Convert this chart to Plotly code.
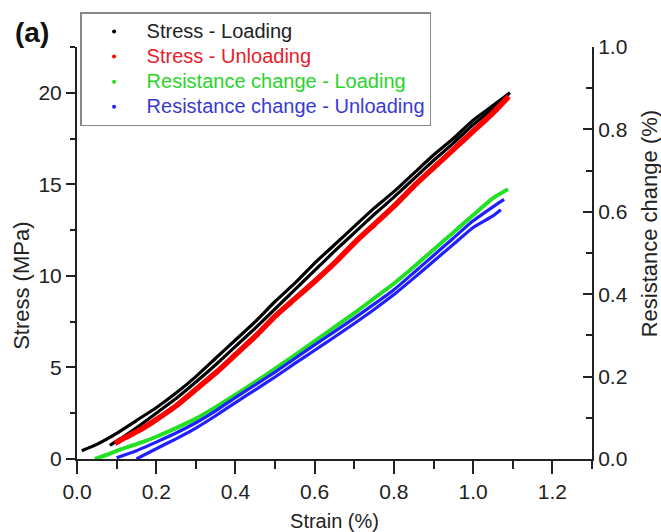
import plotly.graph_objects as go

# ---- data ----
# Stress (MPa) vs strain (%) - loading, two cycles
load1_strain = [0.012, 0.05, 0.10, 0.15, 0.20, 0.25, 0.30, 0.35, 0.40, 0.45, 0.50, 0.55, 0.60,
                0.65, 0.70, 0.75, 0.80, 0.85, 0.90, 0.95, 1.00, 1.05, 1.093]
load1_stress = [0.45, 0.8, 1.4, 2.1, 2.8, 3.6, 4.5, 5.5, 6.5, 7.5, 8.6, 9.6, 10.7,
                11.7, 12.7, 13.7, 14.6, 15.6, 16.6, 17.5, 18.5, 19.3, 20.0]
load2_strain = [0.083, 0.12, 0.16, 0.20, 0.25, 0.30, 0.35, 0.40, 0.45, 0.50, 0.55, 0.60, 0.65,
                0.70, 0.75, 0.80, 0.85, 0.90, 0.95, 1.00, 1.05, 1.09]
load2_stress = [0.75, 1.25, 1.85, 2.5, 3.3, 4.2, 5.15, 6.15, 7.15, 8.2, 9.25, 10.3, 11.35,
                12.35, 13.35, 14.3, 15.3, 16.3, 17.25, 18.25, 19.15, 19.95]
# Stress - unloading
unload_strain = [1.09, 1.05, 1.00, 0.95, 0.90, 0.85, 0.80, 0.75, 0.70, 0.65, 0.60, 0.55, 0.50,
                 0.45, 0.40, 0.35, 0.30, 0.25, 0.20, 0.16, 0.12, 0.096]
unload_stress = [19.8, 18.9, 17.9, 16.9, 15.9, 14.9, 13.8, 12.8, 11.8, 10.7, 9.7, 8.75, 7.8,
                 6.7, 5.7, 4.7, 3.8, 2.9, 2.15, 1.6, 1.15, 0.85]
# Resistance change (%) - loading
rl_strain = [0.045, 0.08, 0.10, 0.15, 0.20, 0.25, 0.30, 0.35, 0.40, 0.45, 0.50, 0.55, 0.60,
             0.65, 0.70, 0.75, 0.80, 0.85, 0.90, 0.95, 1.00, 1.05, 1.088]
rl_res = [0.0, 0.012, 0.02, 0.036, 0.054, 0.075, 0.098, 0.126, 0.156, 0.187, 0.219, 0.252, 0.286,
          0.32, 0.354, 0.39, 0.426, 0.466, 0.508, 0.55, 0.592, 0.633, 0.655]
# Resistance change - unloading, two cycles
ru1_strain = [1.078, 1.05, 1.00, 0.95, 0.90, 0.85, 0.80, 0.75, 0.70, 0.65, 0.60, 0.55, 0.50,
              0.45, 0.40, 0.35, 0.30, 0.25, 0.20, 0.15, 0.10]
ru1_res = [0.63, 0.612, 0.578, 0.536, 0.494, 0.452, 0.411, 0.376, 0.342, 0.309, 0.277, 0.244, 0.211,
           0.18, 0.149, 0.117, 0.088, 0.063, 0.041, 0.02, 0.003]
ru2_strain = [1.07, 1.05, 1.00, 0.95, 0.90, 0.85, 0.80, 0.75, 0.70, 0.65, 0.60, 0.55, 0.50,
              0.45, 0.40, 0.35, 0.30, 0.25, 0.20, 0.15]
ru2_res = [0.605, 0.59, 0.562, 0.521, 0.48, 0.439, 0.399, 0.363, 0.329, 0.296, 0.264, 0.232, 0.199,
           0.168, 0.137, 0.105, 0.075, 0.049, 0.025, 0.0]

names = ["Stress - Loading", "Stress - Unloading",
         "Resistance change - Loading", "Resistance change - Unloading"]
line_colors = ["#000000", "#ff0000", "#22e022", "#2020ff"]
text_colors = ["#222222", "#e8202a", "#2ad42a", "#3a3ad0"]

x_ticks = [0.0, 0.2, 0.4, 0.6, 0.8, 1.0, 1.2]
y_ticks = [0, 5, 10, 15, 20]
y2_ticks = [0.0, 0.2, 0.4, 0.6, 0.8, 1.0]

FONT = "Arial, Liberation Sans, sans-serif"
fig = go.Figure()

def band(x, y, color, width, axis="y"):
    fig.add_trace(go.Scatter(x=x, y=y, mode="lines", yaxis=axis, showlegend=False,
                             line=dict(color=color, width=width, shape="spline", smoothing=0.5)))

band(load1_strain, load1_stress, line_colors[0], 3.2)
band(load2_strain, load2_stress, line_colors[0], 3.2)
band(unload_strain, unload_stress, line_colors[1], 5.5)
band(rl_strain, rl_res, line_colors[2], 4, "y2")
band(ru1_strain, ru1_res, line_colors[3], 3.2, "y2")
band(ru2_strain, ru2_res, line_colors[3], 3.2, "y2")

# legend-only entries with dot markers
for i, n in enumerate(names):
    fig.add_trace(go.Scatter(x=[None], y=[None], mode="markers",
                             name=f"<span style='color:{text_colors[i]};font-size:20px'>{n}</span>",
                             marker=dict(color=line_colors[i], size=4),
                             yaxis="y2" if i >= 2 else "y"))

axis_font = dict(family=FONT, size=21, color="#222222")
title_font = dict(family=FONT, size=20, color="#222222")
ytitle_font = dict(family=FONT, size=22, color="#222222")

fig.update_layout(
    width=661, height=532,
    margin=dict(l=77, r=69, t=44, b=73),
    paper_bgcolor="white", plot_bgcolor="white",
    font=dict(family=FONT, color="#222222"),
    xaxis=dict(range=[0, 1.3], tickvals=x_ticks, tickformat=".1f", automargin=False,
               ticks="outside", ticklen=13, tickwidth=2, tickcolor="#222",
               minor=dict(dtick=0.1, ticklen=8, tickwidth=2, tickcolor="#222", ticks="outside"),
               showline=True, linecolor="#222", linewidth=2, showgrid=False, zeroline=False,
               tickfont=axis_font, title=dict(text="Strain (%)", font=title_font, standoff=12)),
    yaxis=dict(range=[0, 22.5], tickvals=y_ticks, automargin=False,
               ticks="outside", ticklen=9, tickwidth=2, tickcolor="#222",
               minor=dict(dtick=2.5, ticklen=5, tickwidth=2, tickcolor="#222", ticks="outside"),
               showline=True, linecolor="#222", linewidth=2, showgrid=False, zeroline=False,
               tickfont=axis_font),
    yaxis2=dict(range=[0, 1.0], tickvals=y2_ticks, tickformat=".1f", overlaying="y", side="right",
                automargin=False,
                ticks="inside", ticklen=9, tickwidth=2, tickcolor="#222",
                minor=dict(dtick=0.1, ticklen=6, tickwidth=2, tickcolor="#222", ticks="inside"),
                showline=True, linecolor="#222", linewidth=2, showgrid=False, zeroline=False,
                tickfont=axis_font),
    legend=dict(x=0.006, y=1.084, xanchor="left", yanchor="top",
                bgcolor="white", bordercolor="#888888", borderwidth=1.5,
                font=dict(family=FONT, size=17),
                itemwidth=55, tracegroupgap=0),
    showlegend=True,
)

# y-axis titles (placed as in the reference, not centred on the axis)
fig.add_annotation(text="Stress (MPa)", xref="paper", yref="paper", x=-0.107, y=0.42,
                   xanchor="center", yanchor="middle", textangle=-90, showarrow=False,
                   font=ytitle_font)
fig.add_annotation(text="Resistance change (%)", xref="paper", yref="paper", x=1.111, y=0.57,
                   xanchor="center", yanchor="middle", textangle=-90, showarrow=False,
                   font=ytitle_font)

fig.add_annotation(text="<b>(a)</b>", xref="paper", yref="paper", x=-0.124, y=1.034,
                   xanchor="left", yanchor="middle", showarrow=False,
                   font=dict(family=FONT, size=28, color="#111"))

fig.write_html("out.html")
